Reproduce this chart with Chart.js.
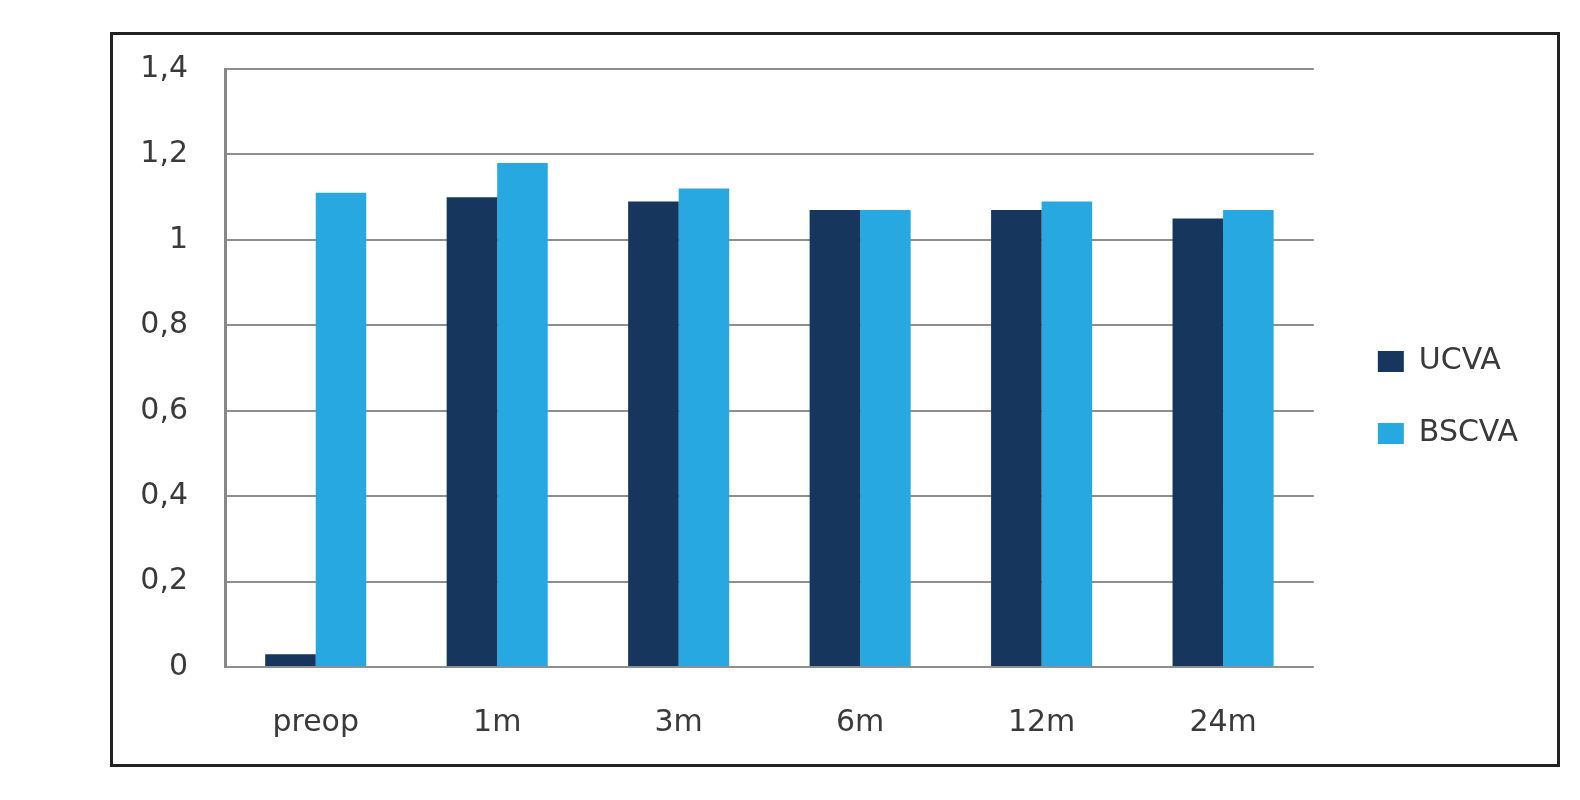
<!DOCTYPE html>
<html>
<head>
<meta charset="utf-8">
<script src="https://cdn.jsdelivr.net/npm/chart.js@4"></script>
<style>
  html, body { margin: 0; padding: 0; background: #fff; overflow: hidden; }
  #box { position: absolute; left: 110px; top: 32px; width: 1444px; height: 729px; border: 3px solid #222; background: #fff; }
  #c { display: block; }
</style>
</head>
<body>
<div id="box"><canvas id="c" width="1444" height="729"></canvas></div>
<script>
const categories = ['preop', '1m', '3m', '6m', '12m', '24m'];
const ucva = [0.03, 1.10, 1.09, 1.07, 1.07, 1.05];
const bscva = [1.11, 1.18, 1.12, 1.07, 1.09, 1.07];
const yTickLabels = ['0', '0,2', '0,4', '0,6', '0,8', '1', '1,2', '1,4'];
const seriesNames = ['UCVA', 'BSCVA'];

const textColor = '#3a3a3a';
const font = { family: 'DejaVu Sans', size: 30 };

new Chart(document.getElementById('c'), {
  type: 'bar',
  data: {
    labels: categories,
    datasets: [
      { label: seriesNames[0], data: ucva, backgroundColor: '#17365d', borderWidth: 0 },
      { label: seriesNames[1], data: bscva, backgroundColor: '#27a8e0', borderWidth: 0 }
    ]
  },
  options: {
    responsive: false,
    animation: false,
    devicePixelRatio: 1,
    layout: { padding: { left: 0, top: 34, right: 29, bottom: 17 } },
    datasets: { bar: { barPercentage: 1.0, categoryPercentage: 0.557 } },
    plugins: {
      tooltip: { enabled: false },
      legend: {
        position: 'right',
        align: 'center',
        fullSize: false,
        title: { display: true, text: ' ', font: { size: 10 }, padding: { top: 47, bottom: 0 } },
        labels: {
          color: textColor,
          font: font,
          boxWidth: 26,
          boxHeight: 21,
          padding: 42
        }
      }
    },
    scales: {
      x: {
        grid: { display: false, drawTicks: false },
        border: { display: false },
        ticks: { color: textColor, font: font, padding: 38, maxRotation: 0 },
        afterFit: s => { s.height = 80; }
      },
      y: {
        min: 0,
        max: 1.4,
        grid: { color: '#8f8f8f', lineWidth: 2, drawTicks: true, tickLength: 37, tickColor: 'rgba(0,0,0,0)' },
        border: { display: true, color: '#878787', width: 3 },
        ticks: {
          stepSize: 0.2,
          color: textColor,
          font: font,
          padding: 0,
          callback: (v, i) => yTickLabels[i]
        },
        afterFit: s => { s.width = 112; }
      },
      spacer: {
        type: 'linear',
        position: 'right',
        display: true,
        grid: { display: false, drawTicks: false },
        border: { display: false },
        ticks: { display: false },
        afterFit: s => { s.width = 22; }
      }
    }
  }
});
</script>
</body>
</html>
